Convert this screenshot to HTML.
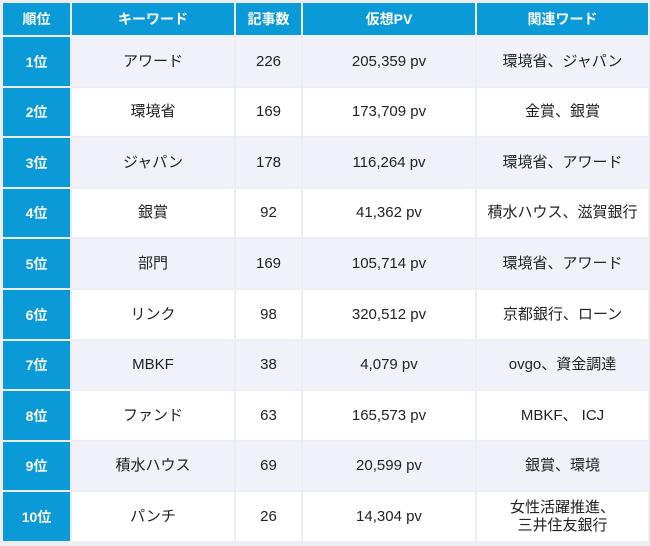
<!DOCTYPE html>
<html><head><meta charset="utf-8"><style>
body{margin:0;width:650px;height:546px;background:#fff;font-family:"Liberation Sans","Noto Sans CJK JP",sans-serif;}
.c{position:absolute;display:flex;align-items:center;justify-content:center;text-align:center;font-size:15px;color:#222;line-height:18px;}
.h{background:#0a9ad8;color:#fff;font-weight:bold;font-size:14px;}
.r{background:#0a9ad8;color:#fff;font-weight:bold;font-size:14px;}
.o{background:#f1f2f9;}
.e{background:#fff;}
#wrap{position:absolute;left:0;top:0;width:650px;height:546px;background:#eceef4;}
</style></head><body>
<div id="wrap"></div>
<script>
const headers=["順位","キーワード","記事数","仮想PV","関連ワード"];
const ranks=["1位","2位","3位","4位","5位","6位","7位","8位","9位","10位"];
const keywords=["アワード","環境省","ジャパン","銀賞","部門","リンク","MBKF","ファンド","積水ハウス","パンチ"];
const counts=["226","169","178","92","169","98","38","63","69","26"];
const pvs=["205,359 pv","173,709 pv","116,264 pv","41,362 pv","105,714 pv","320,512 pv","4,079 pv","165,573 pv","20,599 pv","14,304 pv"];
const related=["環境省、ジャパン","金賞、銀賞","環境省、アワード","積水ハウス、滋賀銀行","環境省、アワード","京都銀行、ローン","ovgo、資金調達","MBKF、 ICJ","銀賞、環境","女性活躍推進、<br>三井住友銀行"];
const xs=[[3,67],[72,162],[236,65],[303,172],[477,171]];
const wrap=document.getElementById('wrap');
function cell(x,y,w,h,cls,html,name){
 const d=document.createElement('div');
 d.className='c '+cls;
 d.style.left=x+'px';d.style.top=y+'px';d.style.width=w+'px';d.style.height=h+'px';
 d.innerHTML=html;
 
 
 wrap.appendChild(d);
}
headers.forEach((t,i)=>cell(xs[i][0],3,xs[i][1],32,'h',t,'header-cell'));
const top0=37,pitch=50.6;
for(let r=0;r<ranks.length;r++){
 const y=Math.round(top0+r*pitch), h=Math.round(top0+(r+1)*pitch)-y-2;
 const bg=r%2===0?'o':'e';
 const vals=[ranks[r],keywords[r],counts[r],pvs[r],related[r]];
 vals.forEach((v,i)=>cell(xs[i][0],y,xs[i][1],h,i===0?'r':bg,v,i===0?'rank-cell':'data-cell'));
}
</script>
</body></html>
